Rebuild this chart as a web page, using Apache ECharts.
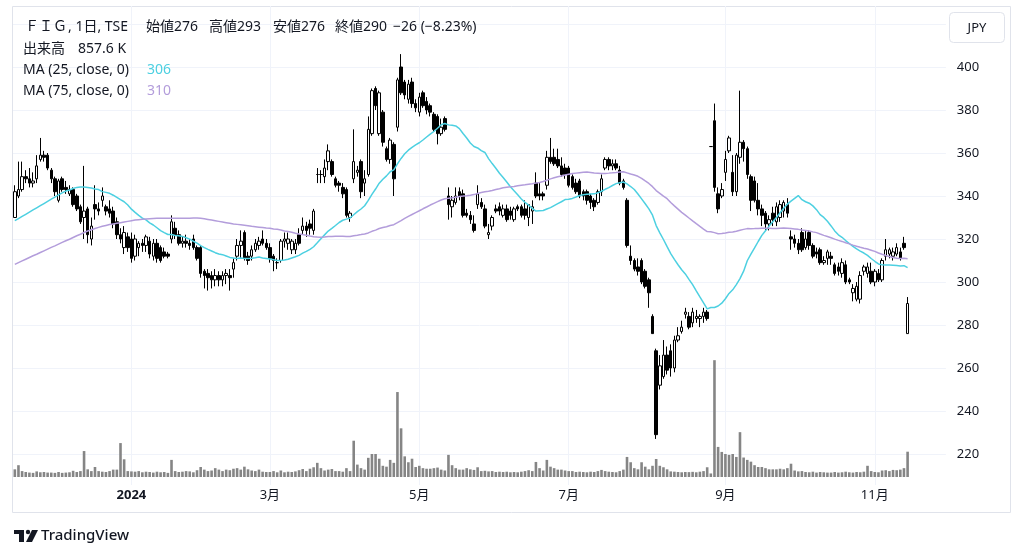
<!DOCTYPE html>
<html><head><meta charset="utf-8">
<script src="https://cdn.jsdelivr.net/npm/echarts@6/dist/echarts.min.js"></script>
<style>html,body{margin:0;padding:0;background:#fff}#c{width:1024px;height:557px}</style>
</head><body><div id="c"></div>
<script>
const opens = [330,340,343,349,348,346,348,357,359,359, 352,348,338,348,344,341,343,340,335,330, 334,320,336,334,338,335,334,333,328,322, 316,321,320,312,316,318,317,319,312,318, 316,314,313,320,325,322,318,319,318,320, 316,316,305,304,303,301,303,301,303,303, 306,312,317,323,312,312,315,317,320,318, 316,312,309,310,319,318,315,315,322,324, 326,327,324,350,350,349,356,356,348,346, 344,343,330,348,351,356,346,350,369,390, 369,379,362,357,364,372,400,393,385,393, 383,379,388,384,382,378,377,369,376,340, 335,337,342,341,332,331,327,336,337,334, 322,326,334,335,331,334,333,329,335,335, 334,330,333,346,341,341,345,358,358,357, 354,353,353,349,346,347,342,342,340,338, 337,342,353,357,354,355,352,347,338,312, 310,307,310,305,301,284,268,252,256,266, 268,260,273,277,285,284,281,283,283,284, 286,363,375,341,340,351,361,351,342,358, 365,362,349,347,338,334,332,327,332,328, 330,333,336,321,320,318,323,316,323,317, 314,315,309,311,312,308,307,304,308,301, 295,292,292,305,304,305,300,304,301,312, 313,312,313,314,318,276];
const highs = [345,356,356,352,353,351,359,367,361,360, 353,349,348,349,347,345,344,341,336,354, 335,330,345,337,344,336,338,335,330,325, 326,323,323,322,319,320,322,321,320,320, 317,316,314,331,328,324,321,322,320,322, 317,317,306,306,305,306,305,305,306,306, 311,320,324,324,314,317,320,321,324,320, 318,313,311,320,323,323,320,320,325,330, 328,329,334,353,352,357,364,357,349,347, 346,344,333,371,354,357,352,377,390,391, 389,380,363,367,365,395,406,394,394,395, 385,388,389,386,383,379,378,376,377,344, 340,344,344,343,334,333,331,345,339,336, 327,331,336,337,336,336,335,335,336,336, 338,336,338,351,346,342,361,367,362,362, 358,355,354,350,348,348,343,343,341,339, 343,350,358,358,357,357,354,348,339,317, 311,311,311,306,302,285,269,266,273,270, 271,275,279,282,288,286,288,287,285,288, 287,363,383,344,346,361,368,359,360,389, 366,363,350,349,346,336,333,331,335,337, 338,338,339,324,322,320,325,324,324,318, 316,316,312,315,314,309,309,311,310,302, 299,300,305,308,309,309,306,306,311,320, 316,316,318,316,321,293];
const lows = [330,339,342,346,344,344,346,356,356,352, 346,340,337,342,341,340,335,333,327,320, 318,317,329,331,335,331,330,325,320,318, 313,314,309,310,312,314,314,311,310,309, 309,311,311,318,320,317,316,316,315,315, 310,302,297,296,297,298,298,298,299,296, 302,310,311,310,308,310,314,315,317,315, 309,305,306,309,316,315,313,313,317,322, 321,322,322,346,346,346,352,349,344,342, 339,330,328,346,349,339,340,349,368,380, 368,363,356,355,340,370,387,385,383,381, 379,377,381,378,377,370,364,368,370,329, 330,336,338,330,330,327,323,334,334,325, 320,324,332,331,330,328,329,328,333,330, 329,326,327,339,338,338,343,355,354,353, 349,348,344,343,341,339,338,336,334,333, 336,340,352,352,352,352,345,343,316,308, 305,303,299,297,288,276,227,250,255,257, 256,258,272,276,283,278,279,281,279,281, 282,363,342,332,339,347,360,340,340,355, 356,348,333,337,331,326,324,324,326,326, 328,330,330,315,316,313,314,315,315,311, 311,308,308,308,308,303,303,302,299,299, 291,291,290,303,302,299,298,300,300,310, 311,310,312,310,315,276];
const closes = [342,343,349,348,346,347,354,359,358,353, 348,342,347,343,343,343,336,334,328,333, 322,326,334,333,340,333,332,327,322,320, 323,316,311,320,318,317,321,313,318,311, 310,312,312,328,322,318,319,318,317,316, 311,304,303,302,301,303,301,303,304,302, 309,317,319,311,310,315,318,319,318,316, 311,310,309,319,320,320,319,318,318,326, 324,325,333,350,350,353,361,350,345,345, 341,331,332,356,352,342,348,371,389,382, 388,365,357,366,348,394,388,387,392,383, 381,386,382,380,379,371,369,372,371,336, 338,340,340,331,331,329,324,341,335,326, 323,330,333,333,334,329,331,334,334,331, 331,336,335,340,340,340,358,356,355,354, 350,350,345,344,342,340,340,338,337,335, 342,348,357,354,355,353,346,344,317,310, 306,305,300,298,295,276,229,261,266,259, 260,273,275,279,286,279,286,284,284,286, 283,363,344,334,343,357,367,342,359,365, 362,350,338,338,334,331,327,329,329,335, 336,337,332,320,318,315,315,320,317,312, 313,309,310,314,311,304,305,309,300,300, 297,298,303,307,307,300,305,301,310,315, 315,314,316,311,316,290];
const volumes = [260,400,200,170,150,140,190,160,170,150, 150,140,170,140,150,160,210,170,200,880, 260,200,340,200,180,170,200,250,250,1150, 600,200,190,180,200,160,180,170,150,180, 160,170,140,580,200,170,180,200,190,160, 230,340,250,200,220,300,250,200,250,230, 280,300,250,350,260,220,200,250,180,170, 170,200,160,220,160,180,170,190,230,270, 200,280,330,480,300,220,250,270,200,200, 180,300,200,1230,420,300,250,650,780,780, 620,380,350,580,480,2880,1650,700,500,620, 340,380,300,280,280,300,320,250,220,750, 400,300,250,250,300,260,240,330,200,210, 190,200,170,180,170,180,160,170,160,180, 200,230,200,510,300,220,580,350,300,250, 250,220,200,200,170,180,170,160,180,170, 200,240,200,180,170,160,200,250,680,500, 300,260,500,350,260,380,610,380,330,260, 190,180,170,160,170,165,175,160,180,200, 330,120,3960,1020,850,780,750,780,680,1520, 660,580,520,400,340,340,300,260,260,260, 280,260,300,450,220,190,200,170,160,180, 150,170,160,150,150,170,150,160,180,160, 150,170,160,180,380,200,170,160,220,230, 200,240,230,250,300,857.6];
// MA values for days whose look-back window starts before the first visible day
const ma25Head = [328.5,329.5,330.5,331.5,332.5,333.5,334.5,335.5,336.5,337.5,338.5,339.5,340.5,341.5,342.3,342.8,343.5,344,344.2,344.2,344,343.7,343.3,343];
const ma75Head = [308.2,309,309.8,310.6,311.4,312.2,312.9,313.7,314.5,315.3, 316.1,316.8,317.6,318.4,319.2,319.9,320.7,321.5,322.2,323, 323.7,324.3,324.9,325.4,325.9,326.3,326.7,327,327.3,327.6, 327.9,328.2,328.5,328.8,329,329.2,329.3,329.4,329.5,329.6, 329.6,329.7,329.7,329.7,329.7,329.7,329.7,329.7,329.7,329.8, 329.8,329.6,329.4,329.1,328.8,328.5,328.2,327.9,327.6,327.3, 327,326.8,326.6,326.4,326.2,325.9,325.7,325.5,325.3,325.1, 325,324.7,324.5,324.2];
const holidays = ['2023-11-23','2024-01-01','2024-01-02','2024-01-03','2024-01-08','2024-02-12','2024-02-23','2024-03-20','2024-04-29','2024-05-03','2024-05-06','2024-07-15','2024-08-12','2024-09-16','2024-09-23','2024-10-14','2024-11-04'];
const tickDates = ['2024-01-04','2024-03-01','2024-05-01','2024-07-01','2024-09-02','2024-11-01'];
const tickLabels = ['2024','3月','5月','7月','9月','11月'];
const priceTicks = [220,240,260,280,300,320,340,360,380,400];

const PAD = 10;
function fmt(d){return d.getUTCFullYear()+'-'+String(d.getUTCMonth()+1).padStart(2,'0')+'-'+String(d.getUTCDate()).padStart(2,'0');}
const dates = [];
(function(){let d=new Date(Date.UTC(2023,10,15));while(dates.length<closes.length+PAD){const w=d.getUTCDay();const s=fmt(d);if(w!==0&&w!==6&&holidays.indexOf(s)<0)dates.push(s);d.setUTCDate(d.getUTCDate()+1);}})();
function ma(p, head){return closes.map((c,i)=>{if(i<p-1)return head[i];let s=0;for(let k=i-p+1;k<=i;k++)s+=closes[k];return +(s/p).toFixed(2);});}
const ma25 = ma(25, ma25Head), ma75 = ma(75, ma75Head);
const candle = opens.map((o,i)=>[o,closes[i],lows[i],highs[i]]);
const tickIdx = tickDates.map(t=>dates.indexOf(t));

const FF = '"Noto Sans","Noto Sans CJK JP",sans-serif';
const TXT = '#131722', CYAN = '#4dd0e1', PURP = '#b39ddb', GRID='#f0f3fa';
const STEP = 3.644, L = 13, N = dates.length;
const W = N*STEP;
const ySplitColors = [];
for(let v=200; v<=420; v+=20) ySplitColors.push(priceTicks.indexOf(v)>=0||v===420 ? GRID : 'rgba(0,0,0,0)');

function t(x,y,text,color,size,weight){return {type:'text',x:x,y:y,silent:true,z:20,style:{text:text,fill:color||TXT,font:(weight||'normal')+' '+(size||14)+'px '+FF,textAlign:'left',textVerticalAlign:'middle',align:'left',verticalAlign:'middle'}};}

const chart = echarts.init(document.getElementById('c'), null, {renderer:'canvas'});
chart.setOption({
  animation:false,
  backgroundColor:'#ffffff',
  grid:[
    {left:L, width:W, top:24, height:473},
    {left:L, width:W, top:359, height:118},
    {left:L+STEP/2, width:(N-1)*STEP, top:6, height:479}
  ],
  xAxis:[
    {type:'category', gridIndex:0, data:dates, show:false},
    {type:'category', gridIndex:1, data:dates, show:false},
    {type:'category', gridIndex:2, data:dates, boundaryGap:false,
      axisLine:{show:false}, axisTick:{show:false},
      axisLabel:{interval:(i)=>tickIdx.indexOf(i)>=0, margin:4, color:TXT, fontSize:13, fontFamily:FF,
        formatter:(v)=>{const k=tickDates.indexOf(v);if(k<0)return '';return k===0?'{b|'+tickLabels[k]+'}':tickLabels[k];},
        rich:{b:{fontWeight:'bold',fontSize:13,fontFamily:FF,color:TXT}}},
      splitLine:{show:true, interval:(i)=>tickIdx.indexOf(i)>=0, lineStyle:{color:GRID,width:1}}}
  ],
  yAxis:[
    {type:'value', gridIndex:0, position:'right', min:200, max:420, interval:20,
      axisLine:{show:false}, axisTick:{show:false},
      axisLabel:{margin:11, color:TXT, fontSize:13, fontFamily:FF, align:'left', formatter:(v)=>priceTicks.indexOf(v)>=0?String(v):''},
      splitLine:{show:true, lineStyle:{color:ySplitColors,width:1}}},
    {type:'value', gridIndex:1, min:0, max:4000, show:false, splitLine:{show:false}},
    {type:'value', gridIndex:2, show:false, splitLine:{show:false}}
  ],
  series:[
    {type:'bar', xAxisIndex:1, yAxisIndex:1, data:volumes, barWidth:2.6, itemStyle:{color:'#858585'}, z:1, silent:true},
    {type:'candlestick', xAxisIndex:0, yAxisIndex:0, data:candle, barWidth:3, z:3, silent:true,
      itemStyle:{color:'#ffffff', color0:'#000000', borderColor:'#000000', borderColor0:'#000000', borderWidth:1}},
    {type:'line', xAxisIndex:0, yAxisIndex:0, data:ma25, symbol:'none', z:4, silent:true, lineStyle:{color:CYAN,width:1.5}},
    {type:'line', xAxisIndex:0, yAxisIndex:0, data:ma75, symbol:'none', z:4, silent:true, lineStyle:{color:PURP,width:1.5}}
  ],
  graphic:[
    {type:'rect', silent:true, z:-10, shape:{x:12.5,y:6.5,width:998,height:506}, style:{fill:'none',stroke:'#e0e3eb',lineWidth:1}},
    {type:'rect', silent:true, z:15, shape:{x:949.5,y:12.5,width:55,height:30,r:4}, style:{fill:'#ffffff',stroke:'#e0e3eb',lineWidth:1}},
    {type:'text', silent:true, z:20, x:977, y:28, style:{text:'JPY',fill:TXT,font:'13px '+FF,textAlign:'center',textVerticalAlign:'middle',align:'center',verticalAlign:'middle'}},
    t(25,27,'ＦＩＧ'), t(68,27,', 1日, TSE'),
    t(146,27,'始値276'), t(209,27,'高値293'), t(273,27,'安値276'), t(335,27,'終値290'), t(393,27,'−26 (−8.23%)'),
    t(23,49,'出来高'), t(78,49,'857.6 K'),
    t(23,70,'MA (25, close, 0)'), t(147,70,'306',CYAN),
    t(23,91,'MA (75, close, 0)'), t(147,91,'310',PURP),
    {type:'group', silent:true, z:20, children:[
      {type:'rect', shape:{x:14,y:530,width:10,height:4}, style:{fill:TXT}},
      {type:'rect', shape:{x:19,y:530,width:5,height:12}, style:{fill:TXT}},
      {type:'circle', shape:{cx:28,cy:532,r:2.2}, style:{fill:TXT}},
      {type:'polygon', shape:{points:[[32,530],[38,530],[32,542],[26,542]]}, style:{fill:TXT}}
    ]},
    t(41,536,'TradingView',TXT,15,'500')
  ]
});
</script></body></html>
